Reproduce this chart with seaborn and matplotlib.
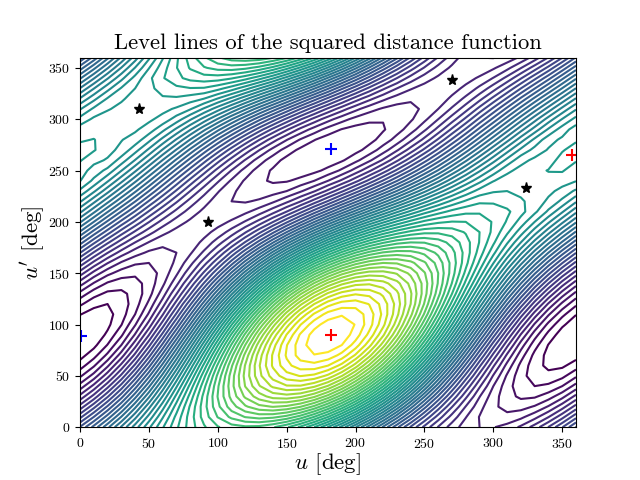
"""Level lines of the squared distance function."""

import matplotlib

matplotlib.use("Agg")
import matplotlib.pyplot as plt
import numpy as np
import seaborn as sns

# grid step of the table below, in degrees
u_deg = list(range(0, 360, 10))
v_deg = list(range(0, 360, 10))

# distance values on a relative 0-999 scale, one row per u' (0 to 350), estimated:
# a two-ellipse sketch was fitted to the picture by eye, printed, typed in here,
# then hand-corrected around the two saddles next to the second maximum
dist_table = [
    [262, 307, 355, 403, 450, 496, 538, 576, 610, 637, 658, 671, 676, 674, 662, 643, 615, 580, 538, 492, 441, 389, 336, 285, 237, 194, 158, 130, 110, 100, 99, 107, 124, 149, 181, 219],
    [214, 260, 309, 361, 414, 467, 518, 566, 610, 649, 681, 705, 721, 728, 725, 713, 691, 659, 620, 573, 521, 464, 406, 347, 291, 238, 191, 152, 121, 99, 88, 86, 95, 113, 139, 173],
    [168, 213, 263, 317, 375, 434, 492, 549, 603, 652, 695, 731, 757, 774, 781, 776, 761, 735, 698, 653, 600, 541, 478, 414, 349, 288, 231, 181, 139, 107, 84, 73, 72, 82, 102, 131],
    [126, 167, 217, 272, 333, 396, 461, 526, 588, 647, 701, 747, 784, 811, 828, 832, 824, 804, 772, 729, 677, 617, 551, 482, 412, 342, 277, 217, 165, 121, 89, 67, 56, 57, 70, 93],
    [88, 126, 173, 228, 290, 356, 426, 497, 567, 634, 697, 753, 801, 838, 864, 878, 878, 864, 838, 799, 749, 689, 622, 550, 475, 400, 327, 258, 196, 143, 100, 68, 48, 40, 44, 60],
    [56, 88, 132, 185, 247, 315, 387, 463, 539, 614, 685, 750, 807, 854, 889, 912, 921, 915, 895, 861, 814, 757, 690, 616, 538, 458, 379, 303, 233, 171, 118, 77, 47, 30, 26, 34],
    [30, 57, 96, 146, 205, 273, 347, 425, 506, 586, 664, 737, 802, 858, 903, 934, 951, 953, 940, 913, 871, 816, 751, 678, 599, 516, 432, 351, 274, 204, 143, 93, 54, 28, 15, 16],
    [12, 32, 65, 110, 166, 232, 306, 385, 468, 552, 635, 714, 787, 850, 903, 943, 969, 979, 974, 953, 917, 867, 805, 734, 655, 571, 485, 400, 318, 242, 174, 116, 69, 34, 13, 5],
    [2, 14, 41, 80, 132, 194, 265, 344, 427, 513, 599, 683, 761, 831, 891, 939, 972, 991, 993, 980, 951, 907, 850, 782, 705, 622, 536, 449, 364, 283, 209, 145, 90, 48, 19, 3],
    [0, 5, 24, 56, 102, 159, 226, 302, 384, 470, 557, 644, 726, 801, 867, 921, 963, 989, 999, 993, 971, 934, 884, 821, 748, 668, 583, 496, 409, 326, 249, 179, 118, 69, 33, 9],
    [7, 4, 15, 39, 78, 128, 190, 261, 340, 424, 511, 598, 682, 761, 831, 891, 939, 972, 990, 992, 979, 949, 906, 849, 782, 706, 625, 540, 454, 370, 290, 217, 152, 97, 54, 24],
    [21, 11, 13, 30, 60, 103, 158, 223, 297, 377, 461, 547, 631, 712, 785, 850, 903, 943, 968, 978, 972, 951, 915, 866, 806, 737, 660, 579, 496, 413, 333, 258, 190, 131, 83, 46],
    [44, 26, 20, 29, 50, 85, 131, 189, 256, 330, 410, 492, 575, 655, 730, 798, 855, 900, 932, 949, 952, 939, 912, 872, 820, 758, 688, 613, 534, 454, 376, 301, 232, 170, 117, 75],
    [73, 48, 35, 35, 47, 72, 110, 159, 217, 285, 358, 436, 515, 593, 668, 737, 797, 846, 884, 908, 918, 914, 896, 865, 823, 769, 708, 640, 567, 492, 417, 344, 276, 212, 157, 110],
    [109, 78, 57, 49, 52, 68, 95, 134, 184, 242, 308, 379, 453, 528, 600, 669, 730, 783, 825, 855, 873, 877, 868, 847, 814, 771, 718, 659, 594, 526, 456, 387, 320, 257, 200, 150],
    [150, 113, 86, 70, 64, 70, 87, 116, 155, 204, 260, 324, 391, 460, 529, 596, 657, 712, 757, 793, 817, 829, 829, 818, 795, 762, 720, 670, 614, 554, 491, 427, 364, 303, 246, 194],
    [194, 154, 121, 97, 83, 80, 87, 104, 133, 171, 217, 271, 331, 393, 457, 520, 580, 635, 682, 722, 752, 771, 780, 778, 766, 743, 712, 673, 627, 576, 521, 464, 406, 349, 293, 241],
    [241, 198, 161, 131, 109, 96, 93, 100, 117, 144, 180, 224, 274, 329, 386, 444, 501, 554, 603, 645, 680, 706, 722, 729, 727, 715, 695, 667, 632, 591, 546, 497, 445, 392, 340, 289],
    [289, 245, 204, 169, 140, 119, 106, 103, 109, 125, 150, 182, 222, 268, 318, 370, 422, 473, 522, 565, 603, 634, 657, 673, 680, 679, 670, 653, 629, 599, 564, 523, 480, 433, 385, 337],
    [337, 292, 250, 210, 176, 148, 126, 113, 109, 113, 127, 149, 178, 214, 255, 300, 347, 394, 440, 484, 524, 559, 588, 610, 626, 635, 636, 631, 618, 600, 575, 544, 509, 469, 427, 382],
    [383, 340, 296, 254, 216, 181, 152, 130, 116, 110, 112, 123, 142, 167, 199, 236, 276, 319, 362, 404, 444, 482, 515, 544, 567, 585, 596, 601, 600, 592, 578, 558, 532, 500, 464, 425],
    [425, 385, 342, 299, 258, 218, 183, 154, 131, 115, 107, 107, 115, 130, 152, 180, 213, 250, 288, 328, 367, 406, 442, 476, 505, 531, 551, 566, 575, 577, 574, 564, 547, 525, 496, 463],
    [463, 426, 386, 344, 301, 258, 219, 183, 152, 128, 110, 100, 98, 103, 116, 135, 159, 189, 222, 258, 295, 333, 371, 407, 442, 473, 501, 525, 543, 556, 556, 550, 543, 532, 516, 495],
    [496, 464, 427, 386, 344, 300, 257, 217, 180, 148, 122, 104, 92, 88, 91, 100, 117, 138, 165, 196, 230, 266, 303, 341, 379, 415, 449, 479, 506, 528, 538, 540, 535, 532, 525, 514],
    [521, 495, 463, 426, 385, 342, 297, 254, 213, 176, 143, 117, 97, 84, 77, 78, 86, 100, 120, 144, 173, 206, 242, 279, 318, 357, 395, 432, 465, 494, 519, 530, 535, 534, 533, 528],
    [528, 513, 494, 461, 424, 382, 339, 294, 251, 210, 172, 139, 112, 91, 77, 69, 68, 74, 86, 104, 128, 156, 188, 224, 262, 302, 342, 383, 421, 457, 488, 515, 527, 534, 541, 542],
    [542, 525, 518, 491, 459, 421, 379, 336, 292, 249, 208, 171, 138, 110, 89, 73, 65, 62, 67, 77, 94, 116, 143, 176, 212, 251, 292, 334, 376, 416, 453, 486, 513, 525, 531, 548],
    [549, 542, 526, 515, 488, 456, 418, 378, 335, 292, 250, 210, 173, 141, 113, 91, 75, 65, 61, 64, 73, 88, 110, 137, 169, 205, 245, 287, 330, 373, 414, 452, 485, 507, 522, 538],
    [537, 541, 530, 521, 512, 486, 454, 418, 379, 338, 296, 256, 217, 181, 149, 121, 98, 81, 69, 64, 66, 73, 88, 108, 135, 166, 203, 243, 285, 329, 372, 413, 451, 485, 512, 524],
    [530, 530, 534, 530, 523, 511, 486, 456, 422, 385, 346, 307, 268, 230, 195, 163, 134, 111, 92, 79, 72, 72, 78, 91, 110, 136, 167, 204, 243, 286, 329, 372, 413, 449, 483, 510],
    [507, 524, 530, 531, 531, 524, 513, 491, 463, 432, 398, 361, 324, 286, 250, 215, 182, 153, 128, 108, 93, 84, 81, 86, 97, 115, 140, 170, 205, 245, 286, 329, 372, 412, 449, 481],
    [478, 504, 518, 526, 531, 531, 526, 517, 502, 477, 449, 418, 384, 348, 312, 276, 240, 207, 176, 149, 126, 108, 97, 92, 94, 104, 120, 143, 172, 207, 245, 286, 328, 370, 409, 446],
    [442, 474, 502, 517, 528, 535, 538, 537, 530, 520, 499, 475, 446, 414, 380, 344, 307, 270, 235, 202, 171, 146, 125, 110, 103, 102, 109, 124, 145, 173, 206, 243, 284, 325, 366, 405],
    [401, 439, 473, 502, 520, 536, 546, 555, 559, 558, 547, 530, 508, 481, 451, 417, 380, 342, 303, 264, 228, 194, 164, 140, 122, 111, 108, 112, 125, 145, 171, 203, 240, 279, 320, 361],
    [357, 398, 438, 474, 507, 535, 558, 575, 586, 591, 590, 582, 568, 548, 523, 492, 457, 419, 377, 335, 293, 252, 213, 180, 151, 130, 116, 110, 112, 123, 141, 166, 198, 234, 273, 315],
    [310, 354, 398, 441, 481, 519, 551, 579, 602, 618, 627, 630, 625, 613, 594, 568, 536, 499, 457, 412, 365, 317, 271, 228, 190, 158, 133, 116, 107, 107, 117, 134, 159, 190, 226, 267],
]

# critical points of the function, in degrees
saddle_u = [43, 93, 270, 324]
saddle_v = [310, 200, 338, 233]
min_u = [1, 182]
min_v = [89, 271]
max_u = [182, 357]
max_v = [90, 265]


def plot_level_lines(path_to_figure):
    """Plot the level lines and the critical points."""
    plt.rcParams["font.family"] = "cmr10"
    plt.rcParams["mathtext.fontset"] = "cm"
    plt.rcParams["axes.formatter.use_mathtext"] = True
    plt.rcParams["axes.unicode_minus"] = False

    # the function is periodic, so repeat the first row and column at 360
    grid = np.array(dist_table)
    grid = np.vstack([grid, grid[0]])
    grid = np.hstack([grid, grid[:, [0]]])
    u = u_deg + [360]
    v = v_deg + [360]

    fig, ax = plt.subplots(figsize=(6.4, 4.8))
    ax.contour(u, v, grid, levels=np.arange(20, 1000, 20), cmap=sns.color_palette("viridis", as_cmap=True))
    ax.plot(saddle_u, saddle_v, "k*", ms=8)
    ax.plot(min_u, min_v, "b+", ms=9, mew=1.5)
    ax.plot(max_u, max_v, "r+", ms=9, mew=1.5)
    ax.set_xlim(0, 360)
    ax.set_ylim(0, 360)
    ax.set_title("Level lines of the squared distance function", fontsize=16.3)
    ax.set_xlabel("$u$ [deg]", fontsize=16.5, labelpad=0.5)
    ax.set_ylabel("$u'$ [deg]", fontsize=16.5, labelpad=1)
    fig.savefig(path_to_figure, dpi=100)


if __name__ == "__main__":
    plot_level_lines("out.png")
